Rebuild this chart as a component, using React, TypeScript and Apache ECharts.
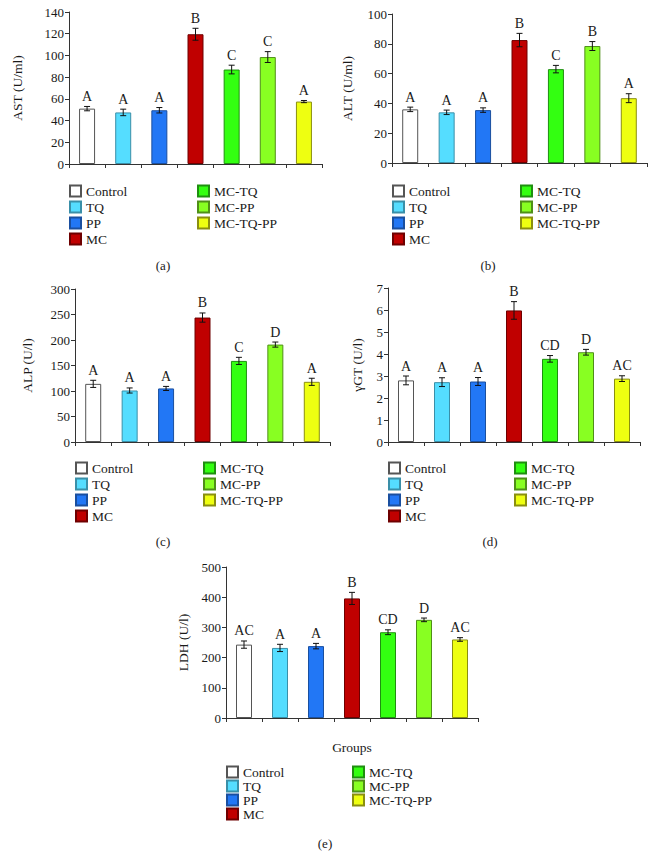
import React, { useEffect, useRef } from "react";
import * as echarts from "echarts";

const groups = ["Control", "TQ", "PP", "MC", "MC-TQ", "MC-PP", "MC-TQ-PP"];
const fillColors = ["#FFFFFF", "#55DDFF", "#2277F5", "#C00000", "#33FF11", "#88FF22", "#EEFF11"];
const borderColors = ["#555555", "#3A8FA8", "#1A4F9F", "#6E0000", "#1F8F10", "#4F8F18", "#8A8F10"];

const astMean = [51, 47.5, 49.5, 119.5, 87, 98.5, 57.5];
const astSd = [2, 3, 2.5, 5.5, 4, 5, 1];
const astLetters = ["A", "A", "A", "B", "C", "C", "A"];

const altMean = [36, 34, 35.5, 82.5, 63, 78.5, 43.5];
const altSd = [1.5, 1.5, 1.5, 4.5, 2.5, 3, 3];
const altLetters = ["A", "A", "A", "B", "C", "B", "A"];

const alpMean = [114, 101, 105, 244, 159, 191, 118];
const alpSd = [7, 5, 4, 9, 7, 5, 7];
const alpLetters = ["A", "A", "A", "B", "C", "D", "A"];

const ggtMean = [2.8, 2.72, 2.75, 5.98, 3.78, 4.08, 2.88];
const ggtSd = [0.2, 0.2, 0.18, 0.4, 0.15, 0.13, 0.13];
const ggtLetters = ["A", "A", "A", "B", "CD", "D", "AC"];

const ldhMean = [243, 232, 238, 396, 284, 325, 260];
const ldhSd = [12, 12, 9, 20, 8, 6, 6];
const ldhLetters = ["AC", "A", "A", "B", "CD", "D", "AC"];

const FONT = "Liberation Serif";

type Panel = {
  label: string;
  yName: string;
  nameGap: number;
  max: number;
  interval: number;
  mean: number[];
  sd: number[];
  letters: string[];
  grid: { left: number; top: number; width: number; height: number };
  legend: { left1: number; left2: number; top: number; gap: number };
  tag: { x: number; y: number };
  xName?: string;
};

const panels: Panel[] = [
  {
    label: "(a)", yName: "AST (U/ml)", nameGap: 45, max: 140, interval: 20,
    mean: astMean, sd: astSd, letters: astLetters,
    grid: { left: 69, top: 12, width: 253, height: 152 },
    legend: { left1: 69, left2: 197, top: 184, gap: 2 },
    tag: { x: 163, y: 265 },
  },
  {
    label: "(b)", yName: "ALT (U/ml)", nameGap: 38, max: 100, interval: 20,
    mean: altMean, sd: altSd, letters: altLetters,
    grid: { left: 392, top: 14, width: 255, height: 149 },
    legend: { left1: 392, left2: 520, top: 184, gap: 2 },
    tag: { x: 488, y: 265 },
  },
  {
    label: "(c)", yName: "ALP (U/l)", nameGap: 41, max: 300, interval: 50,
    mean: alpMean, sd: alpSd, letters: alpLetters,
    grid: { left: 75, top: 289, width: 255, height: 153 },
    legend: { left1: 75, left2: 203, top: 461, gap: 2 },
    tag: { x: 163, y: 541 },
  },
  {
    label: "(d)", yName: "\u03b3GT (U/l)", nameGap: 24, max: 7, interval: 1,
    mean: ggtMean, sd: ggtSd, letters: ggtLetters,
    grid: { left: 388, top: 288, width: 252, height: 154 },
    legend: { left1: 388, left2: 514, top: 461, gap: 2 },
    tag: { x: 490, y: 541 },
  },
  {
    label: "(e)", yName: "LDH (U/l)", nameGap: 36, max: 500, interval: 100,
    mean: ldhMean, sd: ldhSd, letters: ldhLetters,
    grid: { left: 226, top: 567, width: 252, height: 151 },
    legend: { left1: 226, left2: 352, top: 765, gap: 0 },
    tag: { x: 325, y: 843 },
    xName: "Groups",
  },
];

export default function App() {
  const ref = useRef<HTMLDivElement>(null);

  useEffect(() => {
    if (!ref.current) return;
    const chart = echarts.init(ref.current, null, { renderer: "svg" });

    const grids: any[] = [];
    const xAxes: any[] = [];
    const yAxes: any[] = [];
    const series: any[] = [];
    const legends: any[] = [];
    const graphics: any[] = [];

    panels.forEach((p, pi) => {
      grids.push({ ...p.grid });
      xAxes.push({
        type: "category",
        gridIndex: pi,
        data: groups,
        boundaryGap: true,
        axisLine: { lineStyle: { color: "#333", width: 1 } },
        axisTick: { show: true, interval: 0, length: 4, lineStyle: { color: "#333" } },
        axisLabel: { show: false },
        name: p.xName || "",
        nameLocation: "middle",
        nameGap: 22,
        nameTextStyle: { fontFamily: FONT, fontSize: 13.5, color: "#1a1a1a" },
      });
      yAxes.push({
        type: "value",
        gridIndex: pi,
        min: 0,
        max: p.max,
        interval: p.interval,
        splitLine: { show: false },
        axisLine: { show: true, lineStyle: { color: "#333", width: 1 } },
        axisTick: { show: true, length: 4, lineStyle: { color: "#333" } },
        axisLabel: { fontFamily: FONT, fontSize: 13, color: "#1a1a1a", margin: 5 },
        name: p.yName,
        nameLocation: "middle",
        nameGap: p.nameGap,
        nameTextStyle: { fontFamily: FONT, fontSize: 13.5, color: "#1a1a1a" },
      });

      groups.forEach((g, gi) => {
        series.push({
          type: "bar",
          name: g,
          xAxisIndex: pi,
          yAxisIndex: pi,
          barWidth: 16,
          barGap: "-100%",
          data: groups.map((_, k) => (k === gi ? p.mean[k] : "-")),
          itemStyle: { color: fillColors[gi], borderColor: borderColors[gi], borderWidth: 1 },
          emphasis: { disabled: true },
        });
      });

      series.push({
        type: "custom",
        xAxisIndex: pi,
        yAxisIndex: pi,
        data: p.mean.map((m, k) => [k, m, p.sd[k]]),
        encode: { x: 0, y: 1 },
        z: 10,
        renderItem: (params: any, api: any) => {
          const k = api.value(0);
          const m = api.value(1);
          const s = api.value(2);
          const letter = p.letters[params.dataIndex];
          const top = api.coord([k, m + s]);
          const bot = api.coord([k, m - s]);
          const x = top[0];
          const st = { stroke: "#111", lineWidth: 1 };
          return {
            type: "group",
            children: [
              { type: "line", shape: { x1: x, y1: top[1], x2: x, y2: bot[1] }, style: st },
              { type: "line", shape: { x1: x - 3, y1: top[1], x2: x + 3, y2: top[1] }, style: st },
              { type: "line", shape: { x1: x - 3, y1: bot[1], x2: x + 3, y2: bot[1] }, style: st },
              {
                type: "text",
                x: x,
                y: top[1] - 3,
                style: {
                  text: letter,
                  font: "14px 'Liberation Serif'",
                  fill: "#1a1a1a",
                  align: "center",
                  verticalAlign: "bottom",
                },
              },
            ],
          };
        },
      });

      const legendBase = {
        orient: "vertical",
        padding: 0,
        itemWidth: 11,
        itemHeight: 11,
        itemGap: p.legend.gap,
        icon: "rect",
        selectedMode: false,
        textStyle: { fontFamily: FONT, fontSize: 13.5, lineHeight: 12, color: "#1a1a1a" },
        top: p.legend.top,
      };
      legends.push({ ...legendBase, left: p.legend.left1, data: groups.slice(0, 4) });
      legends.push({ ...legendBase, left: p.legend.left2, data: groups.slice(4) });

      graphics.push({
        type: "text",
        x: p.tag.x,
        y: p.tag.y,
        style: {
          text: p.label,
          font: "13px 'Liberation Serif'",
          fill: "#1a1a1a",
          align: "center",
          verticalAlign: "middle",
        },
      });
    });

    chart.setOption({
      animation: false,
      backgroundColor: "#FFFFFF",
      textStyle: { fontFamily: FONT },
      grid: grids,
      xAxis: xAxes,
      yAxis: yAxes,
      series,
      legend: legends,
      graphic: graphics,
    });

    return () => chart.dispose();
  }, []);

  return (
    <div
      ref={ref}
      style={{ position: "absolute", left: 0, top: 0, width: 655, height: 868 }}
    />
  );
}
